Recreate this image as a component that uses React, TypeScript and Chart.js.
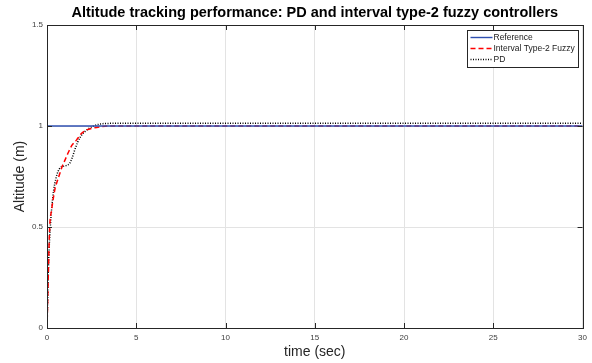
import React, { useEffect, useRef } from "react";
import { Chart, registerables } from "chart.js";

Chart.register(...registerables);

const titleText = "Altitude tracking performance: PD and interval type-2 fuzzy controllers";
const xTitle = "time (sec)";
const yTitle = "Altitude (m)";

const xTicks = [0, 5, 10, 15, 20, 25, 30];
const yTicks = [0, 0.5, 1, 1.5];

const refTime = [0, 30];
const refAltitude = [1, 1];

const fuzzyTime = [0, 0.03, 0.07, 0.15, 0.25, 0.35, 0.45, 0.55, 0.7, 0.85, 1.0, 1.2, 1.4, 1.65, 1.9, 2.2, 2.6, 3.0, 3.5, 30];
const fuzzyAltitude = [0, 0.1, 0.25, 0.5, 0.58, 0.64, 0.69, 0.72, 0.76, 0.8, 0.83, 0.87, 0.905, 0.93, 0.96, 0.98, 0.99, 0.996, 1.0, 1.0];

const pdTime = [0, 0.03, 0.08, 0.15, 0.2, 0.27, 0.37, 0.5, 0.62, 0.75, 0.9, 1.1, 1.27, 1.4, 1.55, 1.72, 1.9, 2.1, 2.3, 2.6, 3.0, 3.5, 30];
const pdAltitude = [0, 0.12, 0.3, 0.45, 0.52, 0.6, 0.68, 0.74, 0.775, 0.795, 0.8, 0.805, 0.815, 0.84, 0.88, 0.92, 0.95, 0.97, 0.985, 1.0, 1.01, 1.013, 1.013];

const seriesNames = ["Reference", "Interval Type-2 Fuzzy", "PD"];

const FONT = "'Liberation Sans', Arial, Helvetica, sans-serif";

const toPoints = (xs: number[], ys: number[]) => xs.map((x, i) => ({ x, y: ys[i] }));

const boxPlugin = {
  id: "boxPlugin",
  afterDatasetsDraw(chart: any) {
    const { ctx, chartArea, scales } = chart;
    const { left, right, top, bottom } = chartArea;
    ctx.save();
    ctx.strokeStyle = "#262626";
    ctx.lineWidth = 1;
    ctx.beginPath();
    const tl = 5;
    xTicks.forEach((v) => {
      const px = Math.round(scales.x.getPixelForValue(v)) + 0.5;
      ctx.moveTo(px, bottom);
      ctx.lineTo(px, bottom - tl);
      ctx.moveTo(px, top);
      ctx.lineTo(px, top + tl);
    });
    yTicks.forEach((v) => {
      const py = Math.round(scales.y.getPixelForValue(v)) + 0.5;
      ctx.moveTo(left, py);
      ctx.lineTo(left + tl, py);
      ctx.moveTo(right, py);
      ctx.lineTo(right - tl, py);
    });
    ctx.stroke();
    ctx.strokeRect(Math.round(left) + 0.5, Math.round(top) + 0.5, Math.round(right - left), Math.round(bottom - top));
    ctx.restore();
  },
  afterDraw(chart: any) {
    const { ctx, chartArea } = chart;
    const ds = chart.data.datasets;
    const boxW = 111;
    const boxH = 37;
    const bx = Math.round(chartArea.right - 5 - boxW) + 0.5;
    const by = Math.round(chartArea.top + 5) + 0.5;
    ctx.save();
    ctx.fillStyle = "#ffffff";
    ctx.fillRect(bx, by, boxW, boxH);
    ctx.strokeStyle = "#262626";
    ctx.lineWidth = 1;
    ctx.strokeRect(bx, by, boxW, boxH);
    ctx.font = `8.5px ${FONT}`;
    ctx.textBaseline = "middle";
    ctx.textAlign = "left";
    ds.forEach((d: any, i: number) => {
      const y = by + 7 + i * 11;
      ctx.save();
      ctx.strokeStyle = d.borderColor;
      ctx.lineWidth = d.borderWidth;
      ctx.setLineDash(d.borderDash || []);
      ctx.beginPath();
      ctx.moveTo(bx + 3, y);
      ctx.lineTo(bx + 25, y);
      ctx.stroke();
      ctx.restore();
      ctx.fillStyle = "#1a1a1a";
      ctx.fillText(d.label, bx + 26, y);
    });
    ctx.restore();
  },
};

export default function App() {
  const ref = useRef<HTMLCanvasElement | null>(null);

  useEffect(() => {
    if (!ref.current) return;
    const chart = new Chart(ref.current, {
      type: "line",
      data: {
        datasets: [
          {
            label: seriesNames[0],
            data: toPoints(refTime, refAltitude),
            borderColor: "#2f4fb0",
            borderWidth: 1.4,
            pointRadius: 0,
            tension: 0,
          },
          {
            label: seriesNames[1],
            data: toPoints(fuzzyTime, fuzzyAltitude),
            borderColor: "#ff0000",
            borderWidth: 1.5,
            borderDash: [5, 3],
            pointRadius: 0,
            cubicInterpolationMode: "monotone",
          },
          {
            label: seriesNames[2],
            data: toPoints(pdTime, pdAltitude),
            borderColor: "#000000",
            borderWidth: 1.5,
            borderDash: [1, 1.5],
            pointRadius: 0,
            cubicInterpolationMode: "monotone",
          },
        ],
      },
      options: {
        responsive: false,
        animation: false,
        layout: { padding: { left: 0, right: 9, top: 0, bottom: 0 } },
        plugins: {
          legend: { display: false },
          tooltip: { enabled: false },
          title: {
            display: true,
            fullSize: false,
            text: titleText,
            color: "#000000",
            font: { family: FONT, size: 14.5, weight: "bold" },
            padding: { top: 4, bottom: 3.6 },
          },
        },
        scales: {
          x: {
            type: "linear",
            min: 0,
            max: 30,
            afterBuildTicks: (scale: any) => {
              scale.ticks = xTicks.map((v) => ({ value: v }));
            },
            afterFit: (scale: any) => {
              scale.height = 35;
            },
            ticks: {
              color: "#404040",
              font: { family: FONT, size: 8 },
              padding: 5,
              maxRotation: 0,
              autoSkip: false,
            },
            grid: { color: "#e3e3e3", drawTicks: false, lineWidth: 1 },
            border: { display: false },
            title: {
              display: true,
              text: xTitle,
              color: "#262626",
              font: { family: FONT, size: 14 },
              padding: { top: 0, bottom: 2 },
            },
          },
          y: {
            type: "linear",
            min: 0,
            max: 1.5,
            afterBuildTicks: (scale: any) => {
              scale.ticks = yTicks.map((v) => ({ value: v }));
            },
            afterFit: (scale: any) => {
              scale.width = 47;
            },
            ticks: {
              color: "#404040",
              font: { family: FONT, size: 8 },
              padding: 4,
              autoSkip: false,
              callback: (v: any) => String(v),
            },
            grid: { color: "#e3e3e3", drawTicks: false, lineWidth: 1 },
            border: { display: false },
            title: {
              display: true,
              text: yTitle,
              color: "#262626",
              font: { family: FONT, size: 14 },
              padding: { top: 12, bottom: 0 },
            },
          },
        },
      },
      plugins: [boxPlugin],
    } as any);
    return () => chart.destroy();
  }, []);

  return (
    <div style={{ position: "fixed", left: 0, top: 0, width: 592, height: 363, background: "#ffffff" }}>
      <canvas ref={ref} width={592} height={363} />
    </div>
  );
}
